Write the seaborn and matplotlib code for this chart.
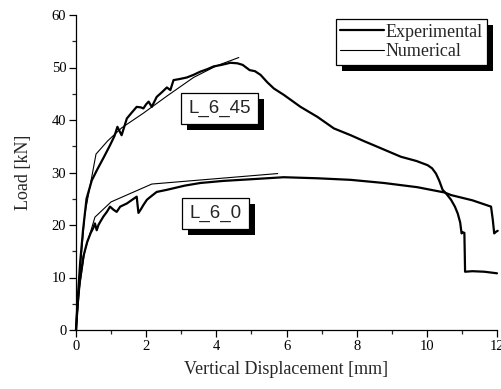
import numpy as np
import pandas as pd
import matplotlib
matplotlib.use("Agg")
import matplotlib.pyplot as plt
import matplotlib.patheffects as pe
from matplotlib.ticker import MultipleLocator
from matplotlib.lines import Line2D
import seaborn as sns

# ---------------- data ----------------
exp45_x = [0, 0.05, 0.12, 0.2, 0.3, 0.45, 0.6, 0.8, 0.97, 1.1, 1.18, 1.3, 1.45, 1.6, 1.73,
           1.85, 1.92, 2.0, 2.07, 2.16, 2.3, 2.45, 2.59, 2.69, 2.78, 2.95, 3.16, 3.35, 3.54,
           3.75, 3.92, 4.15, 4.4, 4.6, 4.75, 4.95, 5.1, 5.26, 5.45, 5.64, 5.92, 6.15, 6.4,
           6.88, 7.35, 7.83, 8.2, 8.59, 9.26, 9.7, 10.02, 10.15, 10.26, 10.35, 10.45, 10.55,
           10.69, 10.8, 10.88, 10.95, 10.99, 11.03, 11.07, 11.08, 11.09, 11.3, 11.64, 12.0]
exp45_y = [0, 6, 13, 19, 25, 28.5, 30.5, 33, 35.2, 37, 38.7, 37.1, 40.3, 41.5, 42.5,
           42.4, 42.2, 43, 43.5, 42.5, 44.4, 45.3, 46.2, 45.7, 47.6, 47.8, 48.1, 48.6, 49.2,
           49.7, 50.2, 50.5, 50.9, 50.8, 50.5, 49.5, 49.3, 48.6, 47.2, 46, 44.8, 43.7, 42.5,
           40.6, 38.4, 37.1, 36, 34.9, 33, 32.2, 31.4, 30.8, 29.8, 28.5, 26.7, 26,
           24.8, 23.5, 22.2, 20.5, 18.4, 18.6, 18.5, 15, 11.1, 11.2, 11.1, 10.8]

num45_x = [0, 0.1, 0.25, 0.57, 0.9, 1.3, 1.92, 2.6, 3.35, 4.0, 4.64]
num45_y = [0, 10, 22, 33.5, 36, 38.5, 41.3, 44.6, 48.1, 50.3, 51.9]

exp0_x = [0, 0.05, 0.11, 0.21, 0.32, 0.42, 0.49, 0.54, 0.59, 0.64, 0.69, 0.78, 0.88, 0.97,
          1.07, 1.16, 1.26, 1.45, 1.6, 1.73, 1.76, 1.78, 1.85, 1.92, 2.02, 2.11, 2.3, 2.59,
          2.78, 3.1, 3.54, 4.2, 4.95, 5.92, 6.88, 7.83, 8.78, 9.73, 10.5, 10.69, 11.3,
          11.83, 11.88, 11.92, 11.97, 12.02]
exp0_y = [0, 5, 9.5, 14, 16.8, 18.5, 19.4, 20.3, 19, 20, 20.6, 21.6, 22.5, 23.5,
          22.9, 22.5, 23.5, 24.1, 24.8, 25.4, 23.5, 22.3, 23.0, 23.8, 24.8, 25.3, 26.3, 26.7,
          27.0, 27.5, 28, 28.4, 28.7, 29.1, 28.9, 28.6, 28, 27.2, 26.2, 25.7, 24.7,
          23.5, 21, 18.4, 18.7, 18.9]

num0_x = [0, 0.1, 0.25, 0.54, 1.0, 2.16, 5.75]
num0_y = [0, 8, 15, 21.5, 24.4, 27.8, 29.8]

label_45 = "L_6_45"
label_0 = "L_6_0"
xlabel = "Vertical Displacement [mm]"
ylabel = "Load [kN]"
legend_labels = ["Experimental", "Numerical"]

# ---------------- style ----------------
sns.set_style("ticks")
plt.rcParams["font.family"] = ["Liberation Serif", "DejaVu Serif"]

fig = plt.figure(figsize=(5.01, 3.89), dpi=100)
ax = fig.add_axes([76 / 501, 59 / 389, 421 / 501, 315 / 389])

curves = [
    (exp45_x, exp45_y, 1.6),
    (num45_x, num45_y, 0.8),
    (exp0_x, exp0_y, 1.6),
    (num0_x, num0_y, 0.8),
]
for cx, cy, lw in curves:
    df = pd.DataFrame({"x": cx, "y": cy})
    sns.lineplot(data=df, x="x", y="y", sort=False, estimator=None,
                 color="black", linewidth=lw, ax=ax, clip_on=False)

ax.set_xlim(0, 12)
ax.set_ylim(0, 60)
ax.xaxis.set_major_locator(MultipleLocator(2))
ax.xaxis.set_minor_locator(MultipleLocator(1))
ax.yaxis.set_major_locator(MultipleLocator(10))
ax.yaxis.set_minor_locator(MultipleLocator(5))
ax.tick_params(which="major", direction="out", length=5, width=0.9, labelsize=10.5,
               colors="black", pad=2)
ax.tick_params(which="minor", direction="out", length=3, width=0.9)
for s in ["top", "right"]:
    ax.spines[s].set_visible(False)
for s in ["left", "bottom"]:
    ax.spines[s].set_color("black")
    ax.spines[s].set_linewidth(0.9)

ax.set_xlabel(xlabel, fontsize=13, labelpad=6)
ax.set_ylabel(ylabel, fontsize=13, labelpad=14)

shadow = [pe.SimplePatchShadow(offset=(4.3, -4.3), shadow_rgbFace="black", alpha=1.0),
          pe.Normal()]

for txt, xc, yc in [(label_45, 4.1, 42.2), (label_0, 3.98, 22.2)]:
    t = ax.text(xc, yc, txt, fontsize=13.5, family=["Liberation Sans", "DejaVu Sans"],
                ha="center", va="center",
                bbox=dict(boxstyle="square,pad=0.38", fc="white", ec="black", lw=0.9))
    t.get_bbox_patch().set_path_effects(shadow)

handles = [Line2D([], [], color="black", lw=1.6), Line2D([], [], color="black", lw=0.8)]
leg = ax.legend(handles, legend_labels, loc="upper right",
                bbox_to_anchor=(487 / 501, 1 - 19 / 389), bbox_transform=fig.transFigure,
                fontsize=13, frameon=True, fancybox=False, framealpha=1,
                edgecolor="black", borderpad=0.25, handlelength=2.4, handletextpad=0.1,
                labelspacing=0.15, borderaxespad=0)
leg.get_frame().set_linewidth(0.9)
leg.legendPatch.set_path_effects(shadow)

fig.savefig("out.png", dpi=100)
